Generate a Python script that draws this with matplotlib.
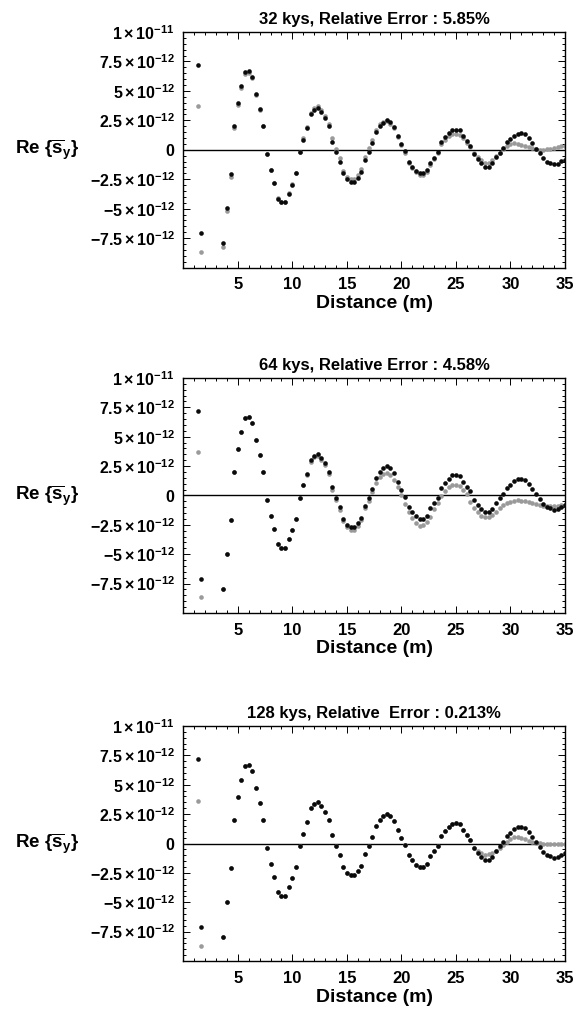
import numpy as np
import matplotlib
matplotlib.use('Agg')
import matplotlib.pyplot as plt
from matplotlib.ticker import FixedLocator, MultipleLocator

# CONFIGURAZIONE
OUTPUT_FILE = 'out.png'
NAN = np.nan

# campioni ogni 1/3 m, da 4/3 m a 35 m (k = 4 ... 105)
distance = np.arange(4, 106) / 3.0

# riferimento (nero), unita' 1e-12 ; nan = fuori scala
ref_black = [
    7.16, -7.1, NAN, NAN, NAN, NAN, NAN, -7.93, -4.96, -2.07,
    2.0, 3.99, 5.41, 6.62, 6.68, 6.2, 4.73, 3.45, 2.0, -0.37,
    -1.73, -2.86, -4.14, -4.45, -4.45, -3.74, -2.95, -1.99, -0.23, 0.85,
    1.84, 3.0, 3.4, 3.53, 3.2, 2.72, 2.0, 0.7, -0.2, -1.0,
    -2.01, -2.5, -2.72, -2.72, -2.38, -1.9, -0.88, -0.2, 0.56, 1.5,
    2.0, 2.3, 2.5, 2.35, 1.92, 1.13, 0.5, -0.12, -1.02, -1.44,
    -1.79, -2.0, -2.0, -1.73, -1.1, -0.68, -0.2, 0.65, 1.05, 1.39,
    1.7, 1.72, 1.64, 1.13, 0.73, 0.34, -0.37, -0.82, -1.14, -1.44,
    -1.44, -1.16, -0.65, -0.25, 0.14, 0.62, 0.93, 1.21, 1.37, 1.42,
    1.3, 1.0, 0.55, 0.1, -0.3, -0.7, -1.0, -1.1, -1.2, -1.18,
    -0.95, -0.85,
]

# 32 kys (grigio)
gray_32 = [
    3.7, -8.67, NAN, NAN, NAN, NAN, NAN, -8.24, -5.2, -2.33,
    1.81, 3.79, 5.24, 6.45, 6.55, 6.1, 4.65, 3.4, 2.0, -0.35,
    -1.7, -2.8, -4.1, -4.4, -4.4, -3.7, -2.9, -1.95, -0.2, 1.0,
    1.95, 3.15, 3.55, 3.68, 3.4, 2.91, 2.23, 0.96, 0.05, -0.71,
    -1.76, -2.27, -2.5, -2.5, -2.1, -1.59, -0.6, 0.11, 0.85, 1.7,
    2.15, 2.4, 2.45, 2.2, 1.85, 1.05, 0.4, -0.25, -1.1, -1.55,
    -1.9, -2.15, -2.15, -1.9, -1.25, -0.8, -0.3, 0.5, 0.85, 1.15,
    1.35, 1.35, 1.25, 1.0, 0.6, 0.25, -0.25, -0.6, -0.9, -1.1,
    -1.08, -0.9, -0.55, -0.25, 0.05, 0.3, 0.5, 0.55, 0.5, 0.42,
    0.34, 0.25, 0.15, 0.05, -0.02, 0.0, 0.05, 0.1, 0.15, 0.22,
    0.28, 0.34,
]

# 64 kys (grigio)
gray_64 = [
    3.7, -8.67, NAN, NAN, NAN, NAN, NAN, -7.93, -4.96, -2.07,
    2.0, 3.99, 5.41, 6.62, 6.68, 6.2, 4.73, 3.45, 2.0, -0.37,
    -1.73, -2.86, -4.14, -4.45, -4.45, -3.74, -2.95, -1.99, -0.23, 0.85,
    1.75, 2.85, 3.25, 3.38, 3.05, 2.55, 1.8, 0.5, -0.4, -1.2,
    -2.2, -2.72, -2.95, -2.95, -2.6, -2.1, -1.1, -0.45, 0.3, 1.1,
    1.55, 1.8, 1.9, 1.75, 1.33, 0.7, 0.0, -0.75, -1.4, -1.95,
    -2.35, -2.57, -2.52, -2.25, -1.8, -1.15, -0.6, -0.08, 0.35, 0.68,
    0.88, 0.91, 0.78, 0.45, 0.1, -0.54, -1.1, -1.45, -1.72, -1.82,
    -1.84, -1.65, -1.38, -1.1, -0.85, -0.65, -0.52, -0.45, -0.42, -0.43,
    -0.48, -0.56, -0.65, -0.75, -0.85, -0.9, -0.93, -0.93, -0.92, -0.88,
    -0.85, -0.8,
]

# 128 kys (grigio)
gray_128 = [
    3.6, -8.68, NAN, NAN, NAN, NAN, NAN, -7.93, -4.96, -2.07,
    2.0, 3.99, 5.41, 6.62, 6.68, 6.2, 4.73, 3.45, 2.0, -0.37,
    -1.73, -2.86, -4.14, -4.45, -4.45, -3.74, -2.95, -1.99, -0.23, 0.85,
    1.84, 3.0, 3.4, 3.53, 3.2, 2.72, 2.0, 0.7, -0.2, -1.0,
    -2.01, -2.5, -2.72, -2.72, -2.38, -1.9, -0.88, -0.2, 0.56, 1.5,
    2.0, 2.3, 2.5, 2.35, 1.92, 1.13, 0.5, -0.12, -1.02, -1.44,
    -1.79, -2.0, -2.0, -1.73, -1.1, -0.68, -0.2, 0.65, 1.05, 1.39,
    1.7, 1.72, 1.64, 1.13, 0.73, 0.34, -0.37, -0.62, -0.85, -0.95,
    -0.9, -0.78, -0.6, -0.35, -0.1, 0.17, 0.4, 0.52, 0.57, 0.5,
    0.37, 0.25, 0.15, 0.07, 0.02, 0.0, 0.0, 0.0, 0.0, 0.0,
    0.0, 0.0,
]

titles = [
    '32 kys, Relative Error : 5.85%',
    '64 kys, Relative Error : 4.58%',
    '128 kys, Relative  Error : 0.213%',
]
gray_series = [gray_32, gray_64, gray_128]

y_ticks = [-7.5e-12, -5e-12, -2.5e-12, 0, 2.5e-12, 5e-12, 7.5e-12, 1e-11]
y_tick_labels = [
    r'$\mathbf{-7.5\times10^{-12}}$', r'$\mathbf{-5\times10^{-12}}$',
    r'$\mathbf{-2.5\times10^{-12}}$', r'$\mathbf{0}$',
    r'$\mathbf{2.5\times10^{-12}}$', r'$\mathbf{5\times10^{-12}}$',
    r'$\mathbf{7.5\times10^{-12}}$', r'$\mathbf{1\times10^{-11}}$',
]
x_ticks = [5, 10, 15, 20, 25, 30, 35]


def main():
    plt.rcParams['font.family'] = ['Liberation Sans', 'DejaVu Sans']
    plt.rcParams['font.weight'] = 'bold'
    plt.rcParams['mathtext.fontset'] = 'custom'
    plt.rcParams['mathtext.rm'] = 'Liberation Sans:bold'
    plt.rcParams['mathtext.bf'] = 'Liberation Sans:bold'
    plt.rcParams['mathtext.it'] = 'Liberation Sans:bold'

    fig = plt.figure(figsize=(5.83, 10.10), dpi=100)

    # posizioni dei pannelli (frazioni della figura)
    boxes = [
        [0.3144, 0.7351, 0.6547, 0.2332],
        [0.3144, 0.3931, 0.6547, 0.2327],
        [0.3144, 0.0485, 0.6547, 0.2327],
    ]

    ref = np.array(ref_black) * 1e-12

    for box, title, gray in zip(boxes, titles, gray_series):
        ax = fig.add_axes(box)
        g = np.array(gray) * 1e-12

        ax.axhline(0, color='black', lw=1.0, zorder=1)
        ax.scatter(distance, g, s=11, color='#9a9a9a', linewidths=0, zorder=2)
        ax.scatter(distance, ref, s=11, color='#0a0a0a', linewidths=0, zorder=3)

        ax.set_xlim(0, 35)
        ax.set_ylim(-1e-11, 1e-11)

        ax.xaxis.set_major_locator(FixedLocator(x_ticks))
        ax.xaxis.set_minor_locator(MultipleLocator(1))
        ax.yaxis.set_major_locator(FixedLocator(y_ticks))
        ax.yaxis.set_minor_locator(MultipleLocator(0.5e-12))
        ax.set_yticklabels(y_tick_labels)
        ax.set_xticklabels([str(t) for t in x_ticks])

        ax.tick_params(which='both', direction='in', top=True, right=True,
                       width=0.7, colors='black')
        ax.tick_params(which='major', length=5)
        ax.tick_params(which='minor', length=2.5)
        ax.tick_params(axis='y', which='major', labelsize=11.5, pad=6)
        ax.tick_params(axis='x', which='major', labelsize=12, pad=7)

        for sp in ax.spines.values():
            sp.set_linewidth(1.0)

        ax.set_title(title, fontsize=12, fontweight='bold', pad=6)
        ax.set_xlabel('Distance (m)', fontsize=14, fontweight='bold', labelpad=2)
        ax.text(-0.356, 0.5, r'$\mathbf{Re}\ \{\overline{\mathbf{s}}_{\mathbf{y}}\}$',
                transform=ax.transAxes, ha='center', va='center', fontsize=13.5)

    fig.savefig(OUTPUT_FILE, dpi=100)


if __name__ == "__main__":
    main()
